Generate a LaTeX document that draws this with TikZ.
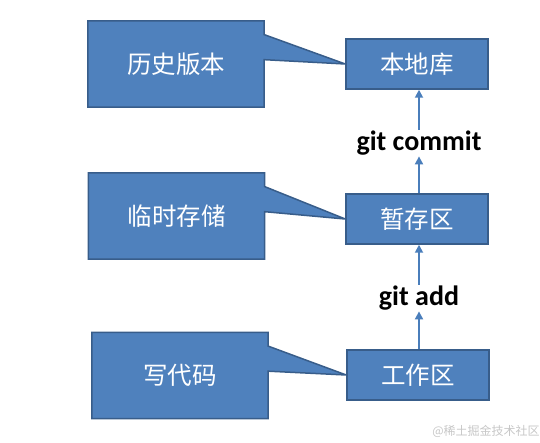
\documentclass[tikz,border=0pt]{standalone}
\usepackage{fontspec}
\setmainfont{Carlito}
\newfontfamily\cjk{Noto Sans CJK SC}
\usepackage{tikz}
\usetikzlibrary{calc, positioning, backgrounds}
\usetikzlibrary{shapes, arrows, arrows.meta}
\definecolor{boxfill}{HTML}{4F81BD}
\definecolor{boxline}{HTML}{385D8A}
\definecolor{arrowblue}{HTML}{4A7EBB}
\tikzset{
    area/.style={rectangle, fill=boxfill, draw=boxline, line width=1.5pt, minimum width=142pt, minimum height=50pt, inner sep=0pt, text=white, font=\cjk\fontsize{24.5}{28}\selectfont},
    note/.style={rectangle, minimum width=176pt, minimum height=86pt, inner sep=0pt, text=white, font=\cjk\fontsize{24.5}{28}\selectfont},
    bubble/.style={fill=boxfill, draw=boxline, line width=1.5pt, line join=miter},
    cmd/.style={inner sep=1pt, font=\bfseries\fontsize{28}{32}\selectfont},
    flow/.style={-{Triangle[width=8pt,length=8pt]}, draw=arrowblue, line width=1.8pt},
}
% callout box pointing at a stage
\newcommand{\callto}[2]{%
    \draw[bubble] (#1.north west) -- (#1.north east)
        -- ($(#1.north east)!0.16!(#1.south east)$) -- (#2.west)
        -- ($(#1.north east)!0.45!(#1.south east)$)
        -- (#1.south east) -- (#1.south west) -- cycle;
}

\begin{document}
\begin{tikzpicture}[x=1pt, y=-1pt]
    \useasboundingbox (0,0) rectangle (540,443);
    % stages
    \node[area] (repo)  at (417,64)  {本地库};
    \node[area] (stage) at (417,219) {暂存区};
    \node[area] (work)  at (418,375) {工作区};
    % commands between the stages
    \node[cmd] (commit) at (419,143) {git commit};
    \node[cmd] (add)    at (419,298) {git add};
    \draw[flow] (work.north -| add) -- (add.south);
    \draw[flow] (add.north) -- (stage.south -| add);
    \draw[flow] (stage.north -| commit) -- (commit.south);
    \draw[flow] (commit.north) -- (repo.south -| commit);
    % callouts
    \node[note] (hist) at (176,64)    {历史版本};
    \node[note] (temp) at (176.5,216) {临时存储};
    \node[note] (code) at (180,375.5) {写代码};
    \begin{scope}[on background layer]
        \callto{hist}{repo}
        \callto{temp}{stage}
        \callto{code}{work}
    \end{scope}
    \node[text=black!22, font=\cjk\fontsize{12}{14}\selectfont] (mark) at (486,431) {@稀土掘金技术社区};
\end{tikzpicture}
\end{document}
